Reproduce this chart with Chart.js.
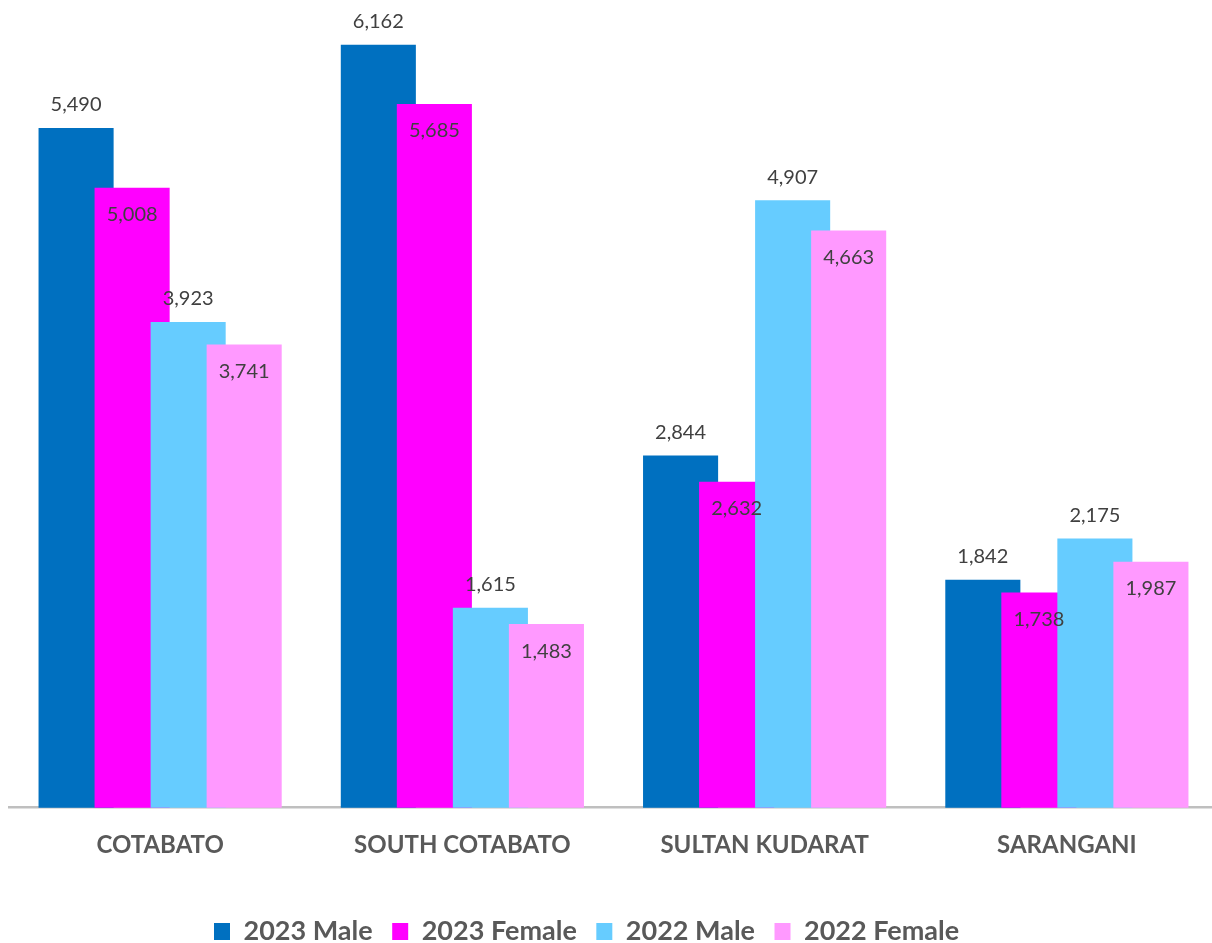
<!DOCTYPE html>
<html>
<head>
<meta charset="utf-8">
<script src="https://cdn.jsdelivr.net/npm/chart.js@4.4.1/dist/chart.umd.min.js"></script>
<style>
  html, body { margin: 0; padding: 0; background: #ffffff; overflow: hidden; }
  #wrap { width: 1212px; height: 943px; position: relative; overflow: hidden; }
  canvas { display: block; }
</style>
</head>
<body>
<div id="wrap"><canvas id="c" width="1218" height="943"></canvas></div>
<script>
const categories = ["COTABATO", "SOUTH COTABATO", "SULTAN KUDARAT", "SARANGANI"];
const seriesNames = ["2023 Male", "2023 Female", "2022 Male", "2022 Female"];
const male2023 = [5490, 6162, 2844, 1842];
const female2023 = [5008, 5685, 2632, 1738];
const male2022 = [3923, 1615, 4907, 2175];
const female2022 = [3741, 1483, 4663, 1987];
const seriesColors = ["#0070C0", "#FF00FF", "#66CCFF", "#FF99FF"];
const labelInside = [false, true, false, true];

const seriesValues = [male2023, female2023, male2022, female2022];

const LEGEND_PAD = 19.5;

const drawOrderPlugin = {
  id: 'drawOrder',
  afterLayout(chart) {
    const lg = chart.legend;
    if (lg) {
      const h = lg.bottom - lg.top;
      lg.left = 214 - LEGEND_PAD;
      lg.top = lg.top + 16;
      lg.bottom = lg.top + h;
    }
  },
  beforeDatasetsDraw(chart) {
    // draw datasets in index order so later series sit on top (Excel overlap look)
    for (let i = 0; i < chart.data.datasets.length; i++) {
      const meta = chart.getDatasetMeta(i);
      if (!meta.hidden) meta.controller.draw();
    }
    return false;
  },
  afterDraw(chart) {
    const ctx = chart.ctx;
    ctx.save();
    ctx.font = '20px Lato';
    ctx.fillStyle = '#404040';
    ctx.textAlign = 'center';
    ctx.textBaseline = 'middle';
    chart.data.datasets.forEach((ds, i) => {
      const meta = chart.getDatasetMeta(i);
      meta.data.forEach((bar, j) => {
        const v = ds.data[j];
        const txt = v.toLocaleString('en-US');
        const y = labelInside[i] ? bar.y + 27 : bar.y - 23;
        ctx.fillText(txt, bar.x, y);
      });
    });
    ctx.restore();
  }
};

new Chart(document.getElementById('c'), {
  type: 'bar',
  data: {
    labels: categories,
    datasets: seriesNames.map((name, i) => ({
      label: name,
      data: seriesValues[i],
      backgroundColor: seriesColors[i],
      borderWidth: 0,
      categoryPercentage: 0.7415,
      barPercentage: 1.34
    }))
  },
  options: {
    responsive: false,
    animation: false,
    layout: { padding: { left: 9, right: 0, top: 3, bottom: 4 } },
    plugins: {
      tooltip: { enabled: false },
      legend: {
        position: 'bottom',
        align: 'start',
        labels: {
          boxWidth: 16,
          boxHeight: 17,
          padding: LEGEND_PAD,
          color: '#595959',
          font: { family: 'Lato', size: 27, weight: 'bold' }
        }
      }
    },
    scales: {
      x: {
        grid: { display: false, drawTicks: false },
        border: { display: true, color: '#BFBFBF', width: 2.5 },
        ticks: {
          color: '#595959',
          padding: 23,
          font: { family: 'Lato', size: 24, weight: 'bold' }
        }
      },
      y: {
        display: false,
        min: 0,
        max: 6500
      }
    }
  },
  plugins: [drawOrderPlugin]
});
</script>
</body>
</html>
